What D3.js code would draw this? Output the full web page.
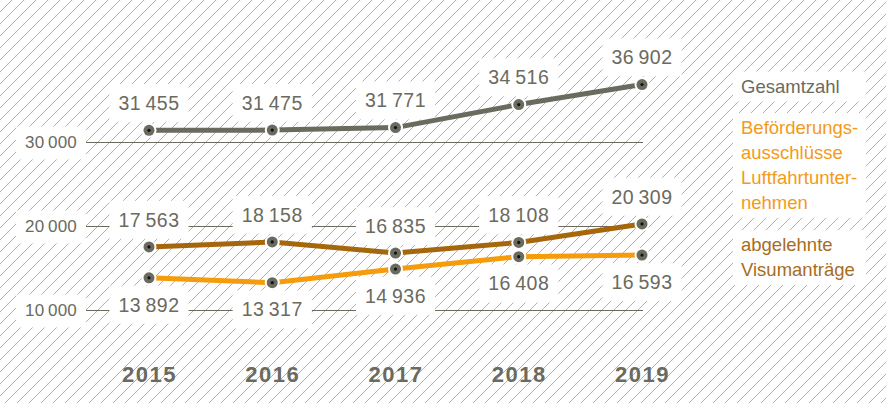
<!DOCTYPE html>
<html><head><meta charset="utf-8">
<script src="https://cdn.jsdelivr.net/npm/d3@7"></script>
<style>
html,body{margin:0;padding:0;background:#fff;}
svg{display:block;font-family:"Liberation Sans",Arial,Helvetica,sans-serif;}
</style></head>
<body>
<svg id="chart" width="886" height="403"></svg>
<script>
const years = ["2015","2016","2017","2018","2019"];
const gesamtzahl = [31455, 31475, 31771, 34516, 36902];
const visumantraege = [17563, 18158, 16835, 18108, 20309];
const befoerderung = [13892, 13317, 14936, 16408, 16593];
const yTicks = [10000, 20000, 30000];
const legendGesamt = ["Gesamtzahl"];
const legendBefoerderung = ["Beförderungs-", "ausschlüsse", "Luftfahrtunter-", "nehmen"];
const legendVisum = ["abgelehnte", "Visumanträge"];

const GRAY = "#6b6a5e", ORANGE = "#f59c0c", BROWN = "#a5660c";
const ORANGE_TXT = "#f39a1a", BROWN_TXT = "#a86c1c";

const svg = d3.select("#chart");
const W = 886, H = 403;

// hatch pattern
const defs = svg.append("defs");
const pat = defs.append("pattern").attr("id","hatch").attr("patternUnits","userSpaceOnUse")
  .attr("width",12).attr("height",12);
pat.append("path").attr("d","M-3,3 L3,-3 M0,12 L12,0 M9,15 L15,9")
  .attr("stroke","#a8a8a8").attr("stroke-width",0.9).attr("fill","none");
svg.append("rect").attr("width",W).attr("height",H).attr("fill","url(#hatch)");

const x = d3.scalePoint().domain(years).range([149, 642]);
const y = d3.scaleLinear().domain([10000, 30000]).range([310.5, 142.5]);

const loc = d3.formatLocale({decimal:",", thousands:"\u2009", grouping:[3], currency:["","€"]});
const fmt = loc.format(",d");

const gGrid = svg.append("g");
const gBox = svg.append("g");
const gLines = svg.append("g");
const gText = svg.append("g");

// gridlines
gGrid.selectAll("line").data(yTicks).join("line")
  .attr("x1", 85).attr("x2", 643)
  .attr("y1", d => y(d)).attr("y2", d => y(d))
  .attr("stroke", GRAY).attr("stroke-width", 1.2);

function boxedText(txt, cx, cy, anchor, color, size, padX, padY, ls){
  const t = gText.append("text").text(txt)
    .attr("x", cx).attr("y", cy).attr("dy","0.35em")
    .attr("text-anchor", anchor).attr("fill", color)
    .attr("font-size", size).attr("letter-spacing", ls + "px");
  const b = t.node().getBBox();
  gBox.append("rect").attr("x", b.x - padX).attr("y", b.y - padY)
    .attr("width", b.width + 2*padX).attr("height", b.height + 2*padY)
    .attr("fill", "#fff");
  return t;
}

// y tick labels
yTicks.forEach(v => boxedText(fmt(v), 77, y(v), "end", GRAY, 17, 9, 7, 0.2));

// axis (years)
const xAxis = d3.axisBottom(x).tickSize(0).tickPadding(0);
const ax = svg.append("g").attr("transform","translate(0,366)").call(xAxis);
ax.select(".domain").remove();
ax.selectAll("text").attr("font-size",22).attr("font-weight","bold")
  .attr("fill",GRAY).attr("font-family","'Liberation Sans',Arial,sans-serif")
  .attr("letter-spacing","1.5px");

const series = [
  {vals: gesamtzahl, color: GRAY, off: -27},
  {vals: visumantraege, color: BROWN, off: -27},
  {vals: befoerderung, color: ORANGE, off: 27}
];

const line = d3.line().x((d,i) => x(years[i])).y(d => y(d));

series.forEach(s => {
  s.vals.forEach((v,i) => boxedText(fmt(v), x(years[i]), y(v) + s.off, "middle", GRAY, 19.5, 9, 8, 0.5));
});

series.forEach(s => {
  gLines.append("path").datum(s.vals).attr("d", line)
    .attr("fill","none").attr("stroke", s.color).attr("stroke-width", 5);
});
series.forEach(s => {
  const g = gLines.append("g");
  g.selectAll("circle.o").data(s.vals).join("circle").attr("class","o")
    .attr("cx",(d,i)=>x(years[i])).attr("cy",d=>y(d)).attr("r",7.5).attr("fill","#fff");
  g.selectAll("circle.m").data(s.vals).join("circle").attr("class","m")
    .attr("cx",(d,i)=>x(years[i])).attr("cy",d=>y(d)).attr("r",5.5).attr("fill",GRAY);
  g.selectAll("circle.c").data(s.vals).join("circle").attr("class","c")
    .attr("cx",(d,i)=>x(years[i])).attr("cy",d=>y(d)).attr("r",1.6).attr("fill","#111");
});

// legend
function legendBlock(lines, top, color){
  const lh = 25;
  const t = gText.append("text").attr("fill", color).attr("font-size", 18.5);
  lines.forEach((l,i) => t.append("tspan").attr("x", 741).attr("y", top + i*lh).attr("dy","0.35em").text(l));
  gBox.append("rect").attr("x", 733).attr("y", top - 15)
    .attr("width", 133).attr("height", (lines.length-1)*lh + 30).attr("fill","#fff");
}
legendBlock(legendGesamt, 86.5, GRAY);
legendBlock(legendBefoerderung, 128, ORANGE_TXT);
legendBlock(legendVisum, 245, BROWN_TXT);
</script>
</body></html>
